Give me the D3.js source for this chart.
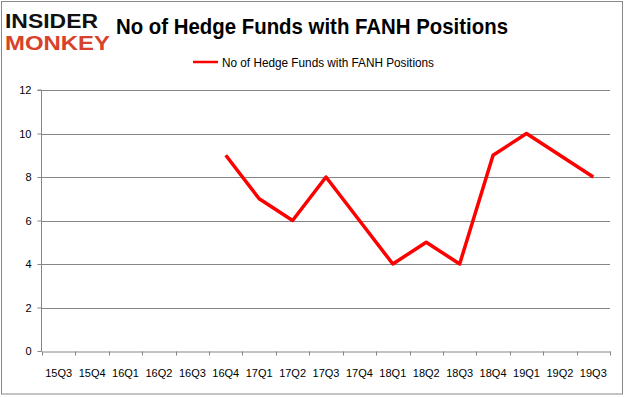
<!DOCTYPE html>
<html>
<head>
<meta charset="utf-8">
<script src="https://cdn.jsdelivr.net/npm/d3@7"></script>
<style>
	body { margin: 0; background: #fff; }
	svg { display: block; }
	text { font-family: "Liberation Sans", Arial, sans-serif; }
</style>
</head>
<body>
<div id="chart"></div>
<script>
// quarters along the x axis
var quarters = ["15Q3", "15Q4", "16Q1", "16Q2", "16Q3", "16Q4", "17Q1", "17Q2", "17Q3",
	"17Q4", "18Q1", "18Q2", "18Q3", "18Q4", "19Q1", "19Q2", "19Q3"];
// hedge fund counts, null where the series has no value yet
var fundCounts = [null, null, null, null, null, 9, 7, 6, 8, 6, 4, 5, 4, 9, 10, 9, 8];
var yTicks = [0, 2, 4, 6, 8, 10, 12];
var seriesName = "No of Hedge Funds with FANH Positions";
var chartTitle = "No of Hedge Funds with FANH Positions";

var width = 626, height = 397;
var margin = {top: 90, right: 16, bottom: 46, left: 42};

var svg = d3.select("#chart").append("svg")
	.attr("width", width)
	.attr("height", height);

//Outer frame around the whole picture
svg.append("rect")
	.attr("x", 1.5).attr("y", 1.5)
	.attr("width", 621).attr("height", 392.5)
	.attr("fill", "none")
	.attr("stroke", "#888");

//Logo, sized so the two words don't collide
var logo = svg.append("g")
	.style("font-family", "'Liberation Sans', sans-serif")
	.style("font-weight", "bold")
	.style("font-size", "19.5px");
logo.append("text")
	.attr("x", 5).attr("y", 28)
	.attr("textLength", 93).attr("lengthAdjust", "spacingAndGlyphs")
	.attr("fill", "#111")
	.text("INSIDER");
logo.append("text")
	.attr("x", 5).attr("y", 50)
	.attr("textLength", 105).attr("lengthAdjust", "spacingAndGlyphs")
	.attr("fill", "#d8412a")
	.text("MONKEY");

//Title
svg.append("text")
	.attr("x", 116).attr("y", 34)
	.attr("textLength", 392).attr("lengthAdjust", "spacingAndGlyphs")
	.style("font-weight", "bold")
	.style("font-size", "22px")
	.attr("fill", "#000")
	.text(chartTitle);

//Legend
svg.append("line")
	.attr("x1", 193).attr("x2", 218)
	.attr("y1", 62).attr("y2", 62)
	.attr("stroke", "#ff0000")
	.attr("stroke-width", 2.5);
svg.append("text")
	.attr("x", 222).attr("y", 66.5)
	.attr("textLength", 212).attr("lengthAdjust", "spacingAndGlyphs")
	.style("font-size", "12px")
	.attr("fill", "#000")
	.text(seriesName);

var plotW = width - margin.left - margin.right;
var plotH = height - margin.top - margin.bottom;

var x = d3.scaleBand()
	.domain(quarters)
	.range([margin.left, margin.left + plotW]);

var y = d3.scaleLinear()
	.domain([0, 12])
	.range([margin.top + plotH, margin.top]);

//Horizontal gridlines
svg.append("g")
	.selectAll("line")
	.data(yTicks.filter(function(d){ return d > 0; }))
	.enter().append("line")
	.attr("x1", margin.left)
	.attr("x2", margin.left + plotW)
	.attr("y1", function(d){ return Math.round(y(d)) + 0.5; })
	.attr("y2", function(d){ return Math.round(y(d)) + 0.5; })
	.attr("stroke", "#868686")
	.attr("stroke-width", 1);

//Y axis
var yAxis = svg.append("g")
	.attr("transform", "translate(" + (margin.left - 0.5) + ",0)")
	.call(d3.axisLeft(y).tickValues(yTicks).tickSize(4).tickPadding(6));

//X axis, ticks on band boundaries
var xAxis = svg.append("g")
	.attr("transform", "translate(0," + (Math.round(y(0)) + 0.5) + ")")
	.call(d3.axisBottom(x).tickSize(0).tickPadding(18));

xAxis.selectAll(".xb")
	.data(quarters.concat([null]))
	.enter().append("line")
	.attr("class", "xb")
	.attr("x1", function(d, i){ return Math.round(margin.left + i * x.bandwidth()) + 0.5; })
	.attr("x2", function(d, i){ return Math.round(margin.left + i * x.bandwidth()) + 0.5; })
	.attr("y1", 0).attr("y2", 4)
	.attr("stroke", "#868686");

[yAxis, xAxis].forEach(function(ax){
	ax.select(".domain").attr("stroke", "#868686");
	ax.selectAll(".tick line").attr("stroke", "#868686");
	ax.selectAll("text")
		.style("font-family", "'Liberation Sans', Arial, sans-serif")
		.style("font-size", "11px")
		.attr("fill", "#000");
});
yAxis.select(".domain").attr("d", "M-4," + (margin.top) + "H0V" + (Math.round(y(0)) + 0.5));

//Series line
var line = d3.line()
	.defined(function(d){ return d !== null; })
	.x(function(d, i){ return x(quarters[i]) + x.bandwidth() / 2; })
	.y(function(d){ return y(d); });

svg.append("path")
	.datum(fundCounts)
	.attr("d", line)
	.attr("fill", "none")
	.attr("stroke", "#ff0000")
	.attr("stroke-width", 3.5)
	.attr("stroke-linejoin", "round");
</script>
</body>
</html>
